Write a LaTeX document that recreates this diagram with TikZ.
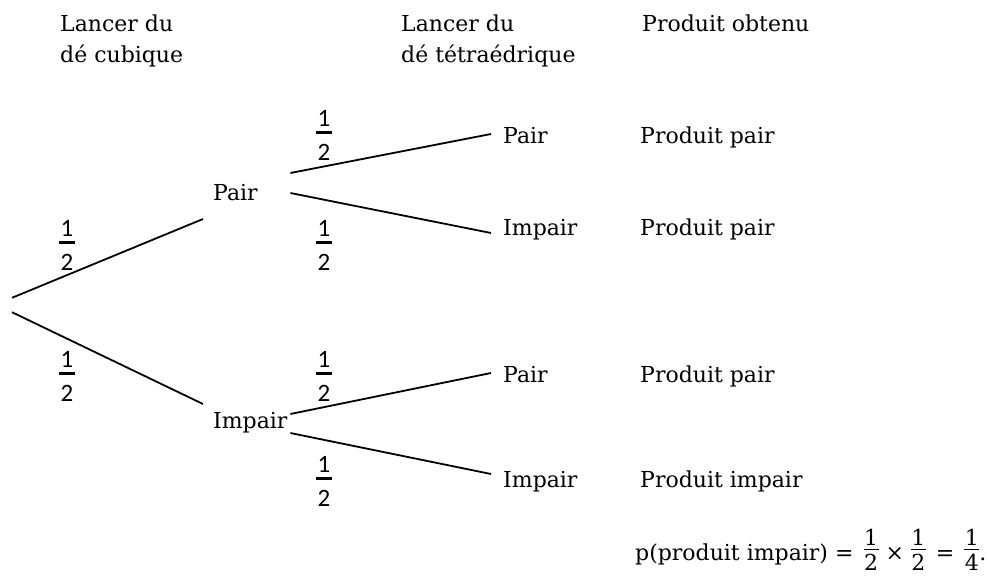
\documentclass[tikz,border=0pt]{standalone}
\usepackage{fontspec}
\setmainfont{DejaVu Serif}
\newfontfamily\fracfont{Carlito}
\usetikzlibrary{positioning}

% stacked one-half, as in the tree
\newcommand{\demi}{\vbox{\offinterlineskip
  \hbox to 16pt{\hss 1\hss}\kern 5pt
  \hrule height 2.8pt\kern 10pt
  \hbox to 16pt{\hss 2\hss}}}
% fraction set in the text line
\newcommand{\frtxt}[2]{\raisebox{-10.5pt}{\vbox{\offinterlineskip
  \hbox to 15pt{\hss #1\hss}\kern 3pt
  \hrule height 1.3pt\kern 4pt
  \hbox to 15pt{\hss #2\hss}}}}

\begin{document}
\begin{tikzpicture}[
    x=1pt, y=-1pt,
    txt/.style={font=\fontsize{22}{31}\selectfont, inner sep=0pt, anchor=base west},
    mid/.style={font=\fontsize{22}{31}\selectfont, text width=67pt, align=left,
                inner xsep=10pt, inner ysep=0pt, text height=20pt, text depth=2pt,
                anchor=base west},
    leaf/.style={font=\fontsize{22}{31}\selectfont, inner xsep=12pt, inner ysep=0pt,
                 text height=20pt, text depth=2pt, anchor=base west},
    prob/.style={font=\fracfont\fontsize{25}{25}\selectfont, inner sep=0pt},
    branch/.style={line width=1.8pt}
  ]
    \useasboundingbox (0,0) rectangle (990,578);

    % column titles (base = last line)
    \node[txt, align=left] (hCube) at (60,63) {Lancer du\\dé cubique};
    \node[txt, align=left] (hTetra) at (401,63) {Lancer du\\dé tétraédrique};
    \node[txt] (hProd) at (642,32) {Produit obtenu};

    % tree
    \node[inner sep=0pt, minimum height=14pt] (root) at (12,305) {};
    \node[mid] (mPair) at (203,200) {Pair};
    \node[mid] (mImpair) at (203,428) {Impair};
    \node[leaf] (lPairA) at (491,143) {Pair};
    \node[leaf] (lImpairA) at (491,235) {Impair};
    \node[leaf] (lPairB) at (491,382) {Pair};
    \node[leaf] (lImpairB) at (491,487) {Impair};

    \node[txt] (pPairA) at (640,143) {Produit pair};
    \node[txt] (pImpairA) at (640,235) {Produit pair};
    \node[txt] (pPairB) at (640,382) {Produit pair};
    \node[txt] (pImpairB) at (640,487) {Produit impair};

    \draw[branch] (root.north) -- ([yshift=-28pt]mPair.west);
    \draw[branch] (root.south) -- ([yshift=15pt]mImpair.west);
    \draw[branch] ([yshift=18pt]mPair.east) -- (lPairA.west);
    \draw[branch] ([yshift=-2pt]mPair.east) -- ([yshift=-7pt]lImpairA.west);
    \draw[branch] ([yshift=5pt]mImpair.east) -- (lPairB.west);
    \draw[branch] ([yshift=-14pt]mImpair.east) -- ([yshift=4pt]lImpairB.west);

    % probabilities
    \node[prob] (fPair) at (67,245) {\demi};
    \node[prob] (fImpair) at (67,376) {\demi};
    \node[prob] (fPairPair) at (324,135) {\demi};
    \node[prob] (fPairImpair) at (324,245) {\demi};
    \node[prob] (fImpairPair) at (324,376) {\demi};
    \node[prob] (fImpairImpair) at (324,481) {\demi};

    \node[txt] (calc) at (635,560)
      {p(produit impair)\hspace{7pt}=\hspace{10pt}\frtxt{1}{2}\hspace{7pt}×\hspace{7pt}\frtxt{1}{2}\hspace{10pt}=\hspace{10pt}\frtxt{1}{4}.};
  \end{tikzpicture}
\end{document}
